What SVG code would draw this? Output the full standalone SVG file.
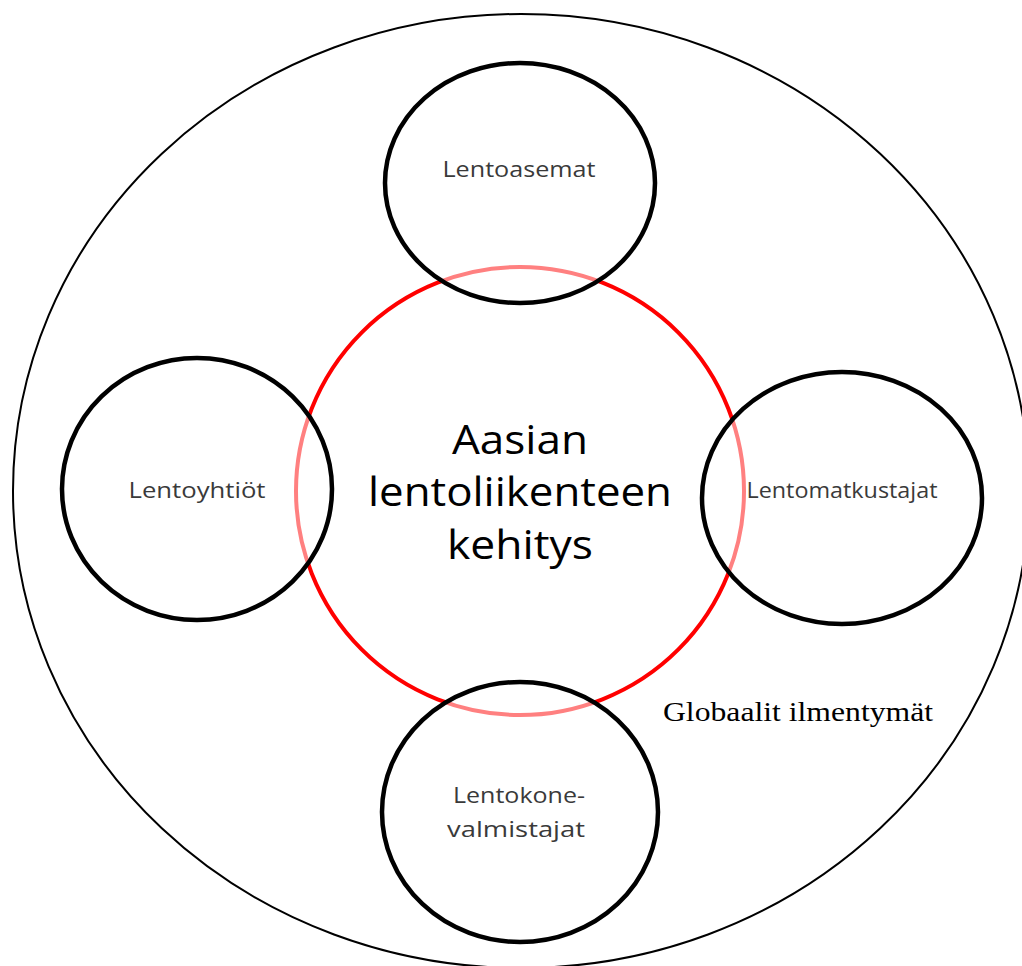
<svg xmlns="http://www.w3.org/2000/svg" width="1022" height="966" viewBox="0 0 1022 966">
<style>
.sat{fill:#fff;fill-opacity:0.5;stroke:#000;stroke-width:4.5}
.lbl{font-family:"Open Sans","Noto Sans",sans-serif;font-size:22px;fill:#3a3a3a;text-anchor:middle}
.core{font-family:"Open Sans","Noto Sans",sans-serif;font-size:41px;fill:#000;text-anchor:middle}
</style>
<rect width="1022" height="966" fill="#fff"/>
<g id="outer">
<ellipse cx="521" cy="491" rx="508" ry="477" fill="none" stroke="#000" stroke-width="2"/>
<text x="798" y="721" font-family="Liberation Serif,serif" font-size="27" text-anchor="middle" fill="#000" textLength="270" lengthAdjust="spacingAndGlyphs">Globaalit ilmentymät</text>
</g>
<g id="center">
<circle cx="520" cy="491" r="224" fill="none" stroke="#ff0000" stroke-width="4"/>
<text class="core" x="520" y="454" textLength="136" lengthAdjust="spacingAndGlyphs">Aasian</text>
<text class="core" x="520" y="506" textLength="304" lengthAdjust="spacingAndGlyphs">lentoliikenteen</text>
<text class="core" x="520" y="559" textLength="146" lengthAdjust="spacingAndGlyphs">kehitys</text>
</g>
<g id="lentoasemat">
<ellipse class="sat" cx="520" cy="183" rx="135" ry="120"/>
<text class="lbl" x="519" y="177" textLength="153" lengthAdjust="spacingAndGlyphs">Lentoasemat</text>
</g>
<g id="lentoyhtiot">
<ellipse class="sat" cx="197" cy="489" rx="135" ry="131"/>
<text class="lbl" x="197" y="498" textLength="137" lengthAdjust="spacingAndGlyphs">Lentoyhtiöt</text>
</g>
<g id="lentomatkustajat">
<ellipse class="sat" cx="842" cy="498" rx="140" ry="126"/>
<text class="lbl" x="842" y="498" textLength="191" lengthAdjust="spacingAndGlyphs">Lentomatkustajat</text>
</g>
<g id="lentokonevalmistajat">
<ellipse class="sat" cx="520" cy="812" rx="138" ry="130"/>
<text class="lbl" x="519" y="803" textLength="132" lengthAdjust="spacingAndGlyphs">Lentokone-</text>
<text class="lbl" x="516" y="837" textLength="138" lengthAdjust="spacingAndGlyphs">valmistajat</text>
</g>
<g id="connectors"/>
</svg>
